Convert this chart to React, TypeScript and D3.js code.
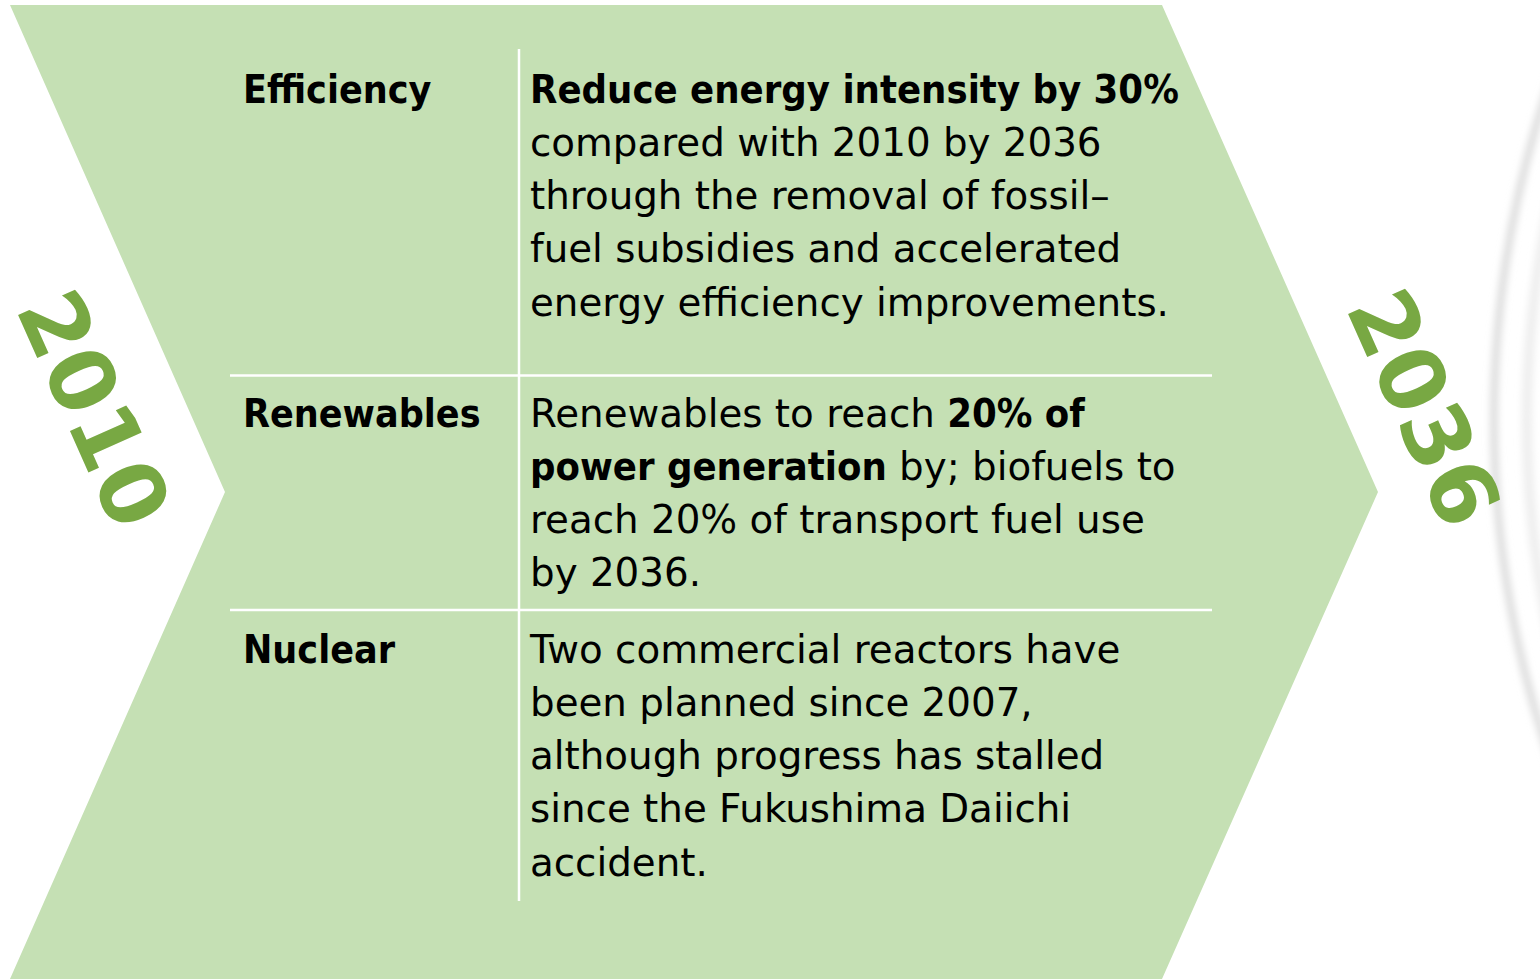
import { useRef, useEffect } from 'react';
import * as d3 from 'd3';

// 行ラベル
const categories = ['Efficiency', 'Renewables', 'Nuclear'];

// 各行の本文（[テキスト, 太字] のセグメント）
const efficiencyLines: [string, boolean][][] = [
    [['Reduce energy intensity by 30%', true]],
    [['compared with 2010 by 2036', false]],
    [['through the removal of fossil–', false]],
    [['fuel subsidies and accelerated', false]],
    [['energy efficiency improvements.', false]]
];
const renewablesLines: [string, boolean][][] = [
    [['Renewables to reach ', false], ['20% of', true]],
    [['power generation', true], [' by; biofuels to', false]],
    [['reach 20% of transport fuel use', false]],
    [['by 2036.', false]]
];
const nuclearLines: [string, boolean][][] = [
    [['Two commercial reactors have', false]],
    [['been planned since 2007,', false]],
    [['although progress has stalled', false]],
    [['since the Fukushima Daiichi', false]],
    [['accident.', false]]
];
const descriptions = [efficiencyLines, renewablesLines, nuclearLines];

// 年ラベル
const startYear = '2010';
const endYear = '2036';

const W = 1540;
const H = 980;
const LIGHT_GREEN = '#c5e0b4';
const DARK_GREEN = '#78a843';
const REG_FONT = "'DejaVu Sans', sans-serif";
const BOLD_FONT = "'DejaVu Sans Condensed', 'DejaVu Sans', sans-serif";

export default function App() {
    const svgRef = useRef<SVGSVGElement>(null);

    useEffect(() => {
        const svg = d3.select(svgRef.current).html('');

        // 背景の円弧（右端のグレー）
        const defs = svg.append('defs');
        defs.append('filter').attr('id', 'blur')
            .attr('x', '-10%').attr('y', '-10%').attr('width', '120%').attr('height', '120%')
            .append('feGaussianBlur').attr('stdDeviation', 3.5);
        const arcG = svg.append('g').attr('filter', 'url(#blur)');
        arcG.append('circle')
            .attr('cx', 2539).attr('cy', 420).attr('r', 1045)
            .attr('fill', 'none').attr('stroke', '#dedede').attr('stroke-width', 8);
        arcG.append('circle')
            .attr('cx', 2539).attr('cy', 420).attr('r', 1012)
            .attr('fill', 'none').attr('stroke', '#eeeeee').attr('stroke-width', 10);

        // シェブロン
        const top = 5, bottom = 979, mid = (top + bottom) / 2;
        const chevron: [number, number][] = [
            [10, top], [1162, top], [1378, mid], [1162, bottom], [10, bottom], [225, mid]
        ];
        svg.append('path')
            .attr('d', d3.line()(chevron) + 'Z')
            .attr('fill', LIGHT_GREEN);

        // 行の位置
        const lineH = 53.3;
        const rowStart = [102.5, 426.5, 662.5];
        const labelX = 243;
        const descX = 530;

        // 区切り線
        const sepY = [375.5, 610];
        svg.selectAll('.hsep')
            .data(sepY)
            .enter()
            .append('line')
            .attr('x1', 230).attr('x2', 1212)
            .attr('y1', d => d).attr('y2', d => d)
            .attr('stroke', '#fff').attr('stroke-width', 2.5);
        svg.append('line')
            .attr('x1', 519).attr('x2', 519)
            .attr('y1', 49).attr('y2', 901)
            .attr('stroke', '#fff').attr('stroke-width', 2.5);

        // ラベル
        svg.selectAll('.label')
            .data(categories)
            .enter()
            .append('text')
            .attr('x', labelX)
            .attr('y', (d, i) => rowStart[i])
            .attr('font-family', BOLD_FONT)
            .attr('font-stretch', 'condensed')
            .attr('font-weight', 'bold')
            .attr('font-size', 39)
            .attr('fill', '#000')
            .text(d => d);

        // 本文
        descriptions.forEach((lines, i) => {
            lines.forEach((segs, j) => {
                const t = svg.append('text')
                    .attr('x', descX)
                    .attr('y', rowStart[i] + j * lineH)
                    .attr('font-size', 38.8)
                    .attr('fill', '#000')
                    .style('white-space', 'pre');
                segs.forEach(([s, b]) => {
                    t.append('tspan')
                        .attr('font-family', b ? BOLD_FONT : REG_FONT)
                        .attr('font-stretch', b ? 'condensed' : 'normal')
                        .attr('font-weight', b ? 'bold' : 'normal')
                        .attr('font-size', b ? 39.6 : 38.8)
                        .text(s);
                });
            });
        });

        // 年
        const years = [
            { text: startYear, x: 94, y: 409 },
            { text: endYear, x: 1424, y: 408 }
        ];
        svg.selectAll('.year')
            .data(years)
            .enter()
            .append('text')
            .attr('transform', d => `translate(${d.x},${d.y}) rotate(66)`)
            .attr('text-anchor', 'middle')
            .attr('dominant-baseline', 'central')
            .attr('font-family', REG_FONT)
            .attr('font-weight', 'bold')
            .attr('font-size', 89)
            .attr('fill', DARK_GREEN)
            .text(d => d.text);
    }, []);

    return (
        <svg ref={svgRef} width={W} height={H}
            style={{ position: 'absolute', left: 0, top: 0, background: '#fff' }} />
    );
}
